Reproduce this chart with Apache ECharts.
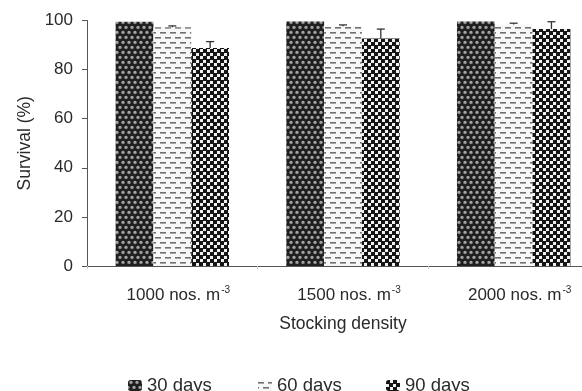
<!DOCTYPE html>
<html><head><meta charset="utf-8">
<script src="https://cdn.jsdelivr.net/npm/echarts@6/dist/echarts.min.js"></script>
<style>html,body{margin:0;padding:0;background:#fff}#c{width:582px;height:391px}</style>
</head><body><div id="c"></div>
<script>
const categories = ['1000 nos. m', '1500 nos. m', '2000 nos. m'];
const superscripts = ['-3', '-3', '-3'];
const seriesNames = ['30 days', '60 days', '90 days'];
const days30 = [99.5, 99.6, 99.6];
const days60 = [97.3, 97.7, 98.4];
const days90 = [88.8, 92.7, 96.5];
const err30 = [0, 0, 0];
const err60 = [0.5, 0.5, 0.5];
const err90 = [2.6, 3.8, 3.0];
const yTicks = [0, 20, 40, 60, 80, 100];

const FONT = 'Liberation Sans, Arial, Helvetica, sans-serif';
const BW = 37.8;

function tile(w, h, draw) {
  const c = document.createElement('canvas');
  c.width = w; c.height = h;
  const g = c.getContext('2d');
  draw(g);
  return { image: c, repeat: 'repeat' };
}
const pat30 = tile(6, 10, g => {
  g.fillStyle = '#1e1e1e'; g.fillRect(0, 0, 6, 10);
  g.fillStyle = '#8a8a8a';
  [[3, 2.5], [0, 7.5], [6, 7.5]].forEach(([x, y]) => { g.beginPath(); g.arc(x, y, 1.8, 0, Math.PI * 2); g.fill(); });
  g.fillStyle = '#c8c8c8';
  [[3, 2], [0, 7], [6, 7]].forEach(([x, y]) => { g.beginPath(); g.arc(x, y, 0.8, 0, Math.PI * 2); g.fill(); });
});
const pat60 = tile(10, 10, g => {
  g.fillStyle = '#f7f7f7'; g.fillRect(0, 0, 10, 10);
  g.fillStyle = '#707070';
  g.fillRect(0, 2, 6, 1.6);
  g.fillRect(5, 7, 5, 1.6);
  g.fillRect(0, 7, 1, 1.6);
});
const pat90 = tile(7, 7, g => {
  g.fillStyle = '#f0f0f0'; g.fillRect(0, 0, 7, 7);
  g.fillStyle = '#151515';
  g.fillRect(0, 0, 4, 4);
  g.fillRect(3, 3, 4, 4);
});
const patterns = [pat30, pat60, pat90];
const values = [days30, days60, days90];
const errs = [err30, err60, err90];

const errData = [];
values.forEach((arr, s) => arr.forEach((v, i) => { if (errs[s][i] > 0) errData.push([i, v, errs[s][i], s]); }));

const chart = echarts.init(document.getElementById('c'), null, { renderer: 'canvas' });
const barSeries = seriesNames.map((n, s) => ({
  name: n, type: 'bar', data: values[s], barWidth: BW, barGap: '0%',
  itemStyle: { color: patterns[s] }, silent: true
}));
chart.setOption({
  animation: false,
  grid: { left: 87, right: -17, top: 20.5, bottom: 125, outerBoundsMode: 'none', containLabel: false },
  legend: seriesNames.map((n, s) => ({
    data: [n], left: [123, 253, 381][s], top: 371, itemWidth: 14, itemHeight: 11, itemGap: 0,
    textStyle: { fontSize: 18.5, color: '#2a2a2a', fontFamily: FONT }, selectedMode: false
  })),
  xAxis: {
    type: 'category', data: categories,
    name: 'Stocking density', nameLocation: 'middle', nameGap: 49,
    nameTextStyle: { fontSize: 17.5, color: '#2a2a2a', fontFamily: FONT },
    axisLine: { lineStyle: { color: '#555', width: 1 } },
    axisTick: { show: true, length: 3, lineStyle: { color: '#ccc' } },
    axisLabel: {
      margin: 19, fontFamily: FONT,
      formatter: (v, i) => '{a|' + v + '}{s|' + superscripts[i] + '}',
      rich: {
        a: { fontSize: 17, color: '#2a2a2a', fontFamily: FONT, lineHeight: 20, padding: [0, 0, 0, 12] },
        s: { fontSize: 10, color: '#2a2a2a', fontFamily: FONT, verticalAlign: 'top', lineHeight: 12, padding: [0, 0, 8, 1] }
      }
    }
  },
  yAxis: {
    type: 'value', min: 0, max: 100, interval: 20,
    name: 'Survival (%)', nameLocation: 'middle', nameGap: 52,
    nameTextStyle: { fontSize: 17.5, color: '#2a2a2a', fontFamily: FONT },
    axisLine: { show: true, lineStyle: { color: '#555', width: 1 } },
    axisTick: { show: true, length: 5, lineStyle: { color: '#555' } },
    splitLine: { show: false },
    axisLabel: { margin: 14, fontSize: 17, color: '#2a2a2a', fontFamily: FONT,
      formatter: v => yTicks.includes(v) ? String(v) : '' }
  },
  series: barSeries.concat([{
    type: 'custom', z: 5, silent: true, data: errData,
    encode: { x: 0, y: 1 },
    renderItem: (params, api) => {
      const cat = api.value(0), v = api.value(1), e = api.value(2), s = api.value(3);
      const p0 = api.coord([cat, v]);
      const p1 = api.coord([cat, v + e]);
      const x = p0[0] + (s - 1) * BW;
      const st = { stroke: '#333', lineWidth: 1.3 };
      return { type: 'group', children: [
        { type: 'line', shape: { x1: x, y1: p0[1], x2: x, y2: p1[1] }, style: st },
        { type: 'line', shape: { x1: x - 4, y1: p1[1], x2: x + 4, y2: p1[1] }, style: st }
      ] };
    }
  }])
});
</script></body></html>
